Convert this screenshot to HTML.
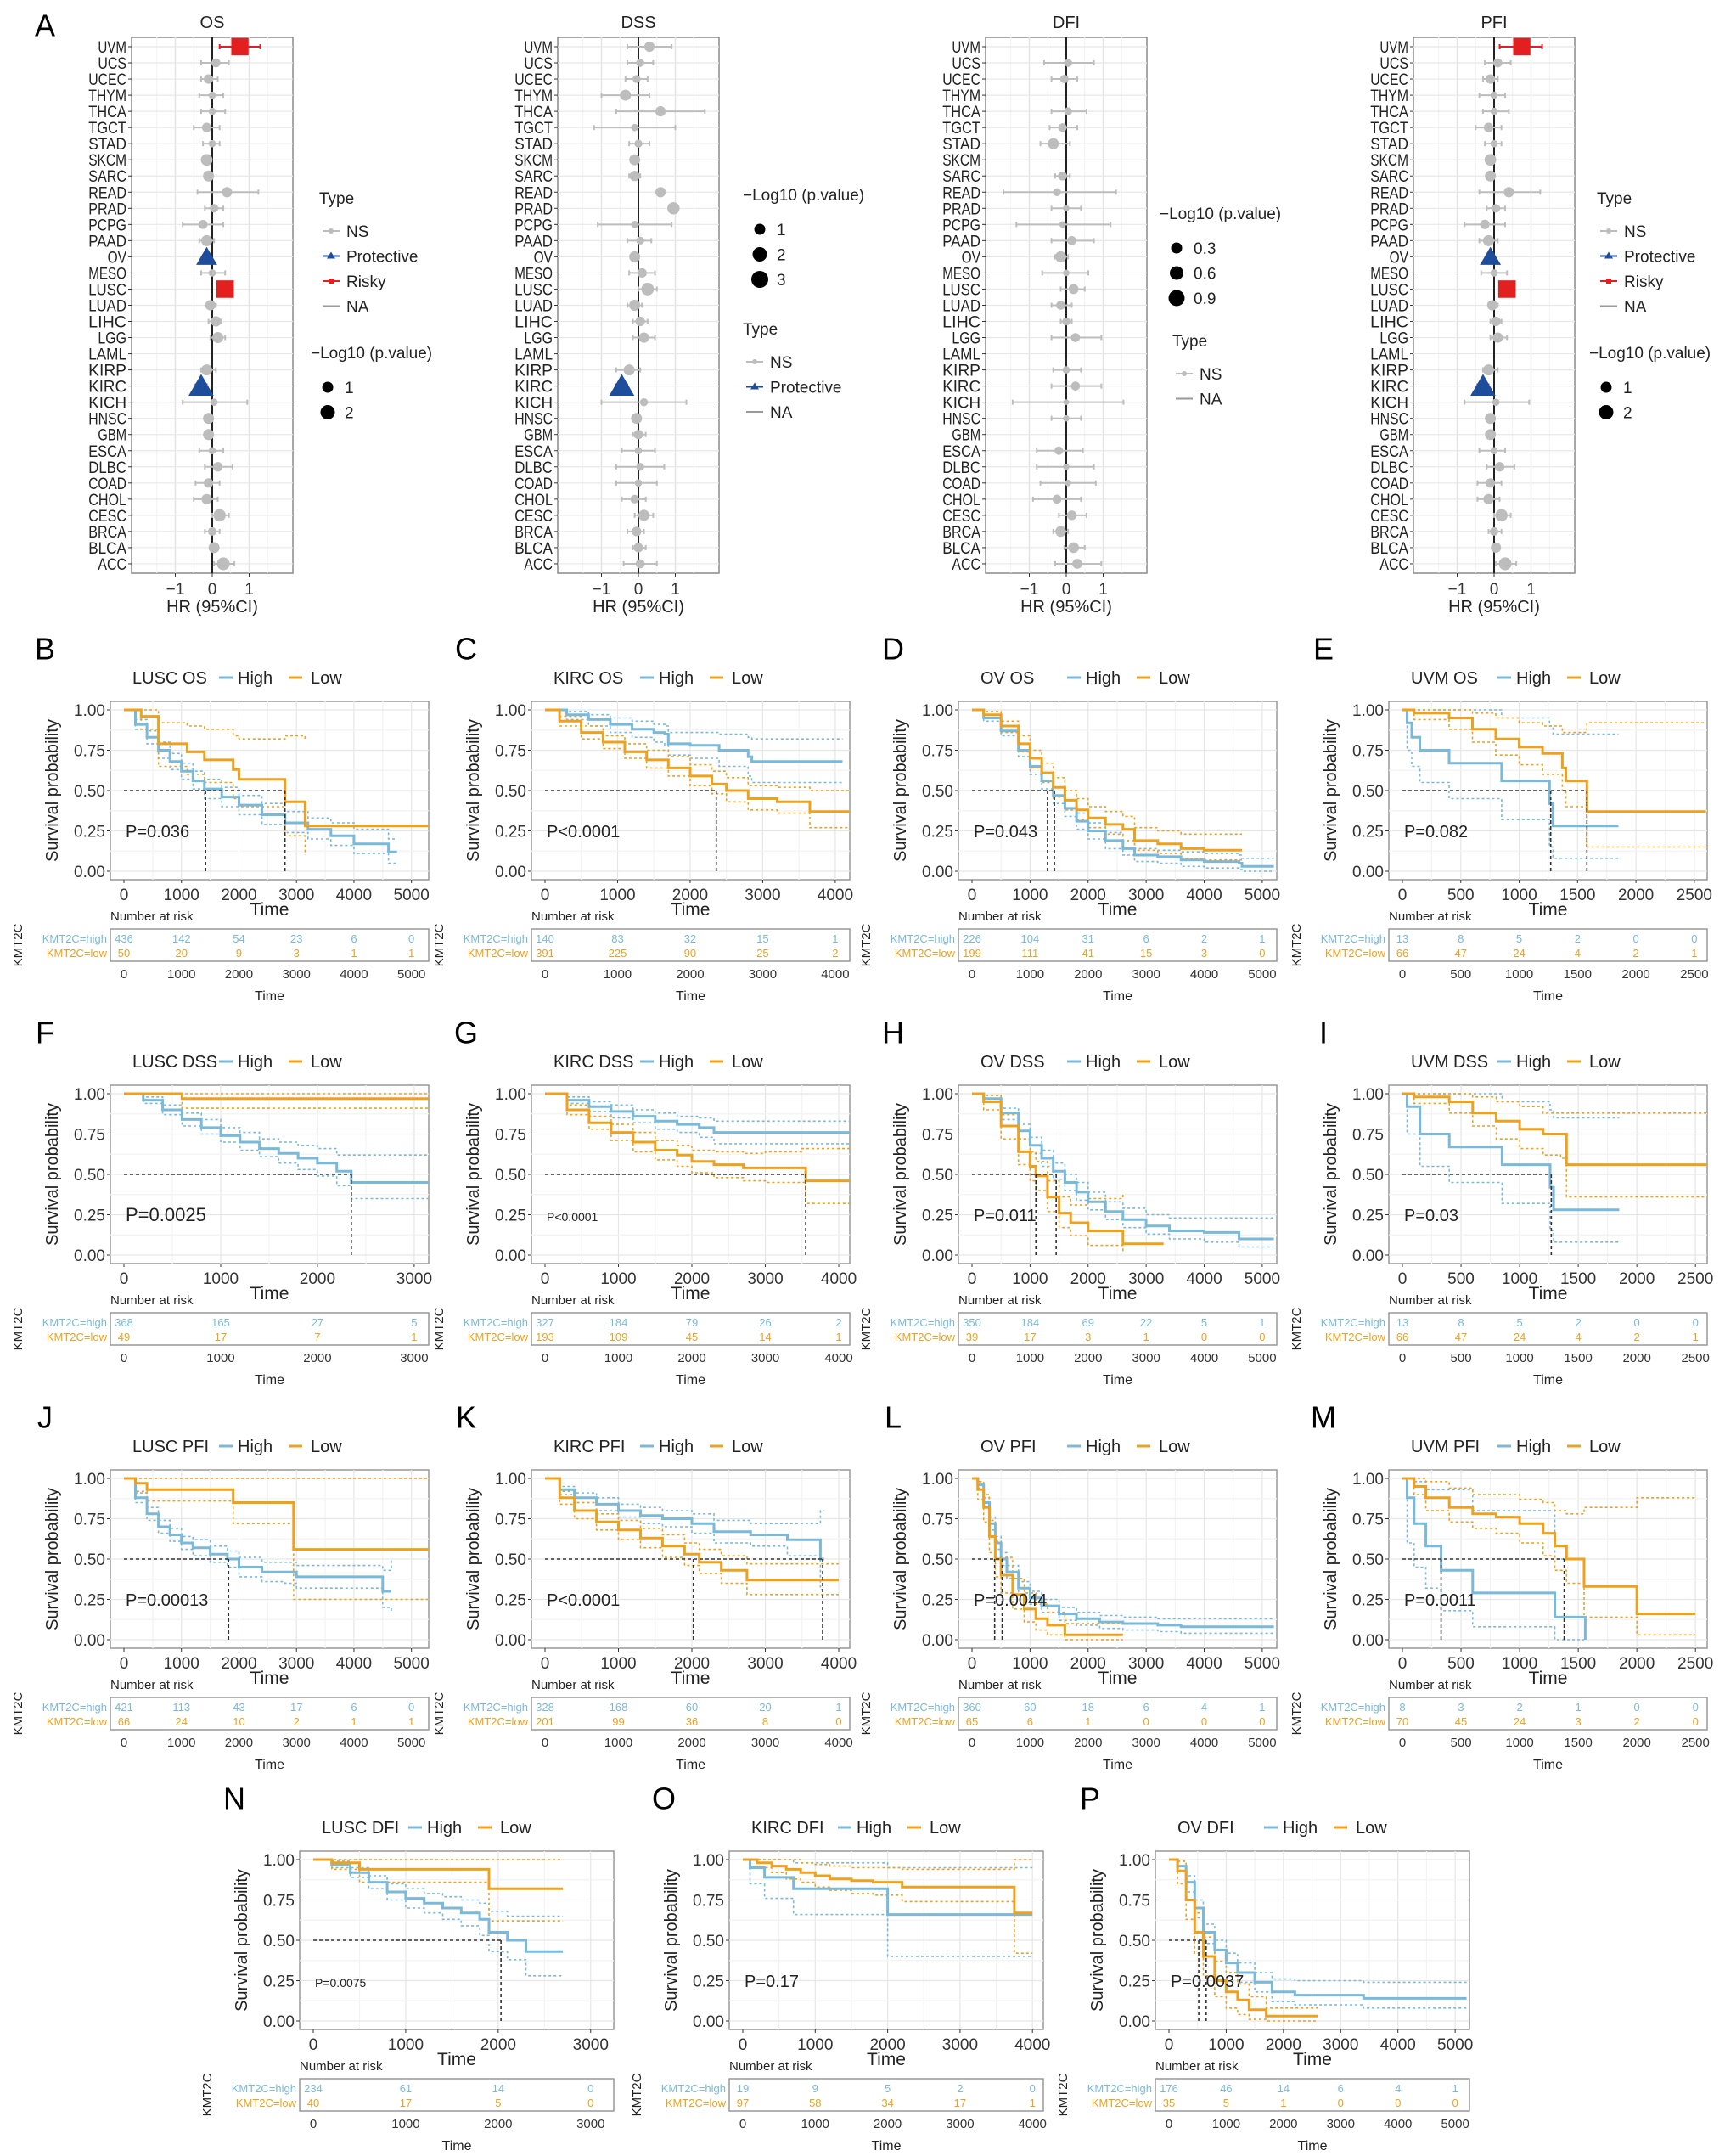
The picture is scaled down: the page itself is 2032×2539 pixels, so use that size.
<!DOCTYPE html>
<html><head><meta charset="utf-8"><title>KMT2C survival figure</title>
<style>
body{margin:0;background:#fff;}
svg text{font-family:"Liberation Sans",Arial,sans-serif;}
</style></head>
<body>
<svg id="fig" width="2032" height="2534" viewBox="0 0 2032 2534" xmlns="http://www.w3.org/2000/svg"></svg>
<script>
// ===== Forest plot data =====
const cancers=["UVM","UCS","UCEC","THYM","THCA","TGCT","STAD","SKCM","SARC","READ","PRAD","PCPG","PAAD","OV","MESO","LUSC","LUAD","LIHC","LGG","LAML","KIRP","KIRC","KICH","HNSC","GBM","ESCA","DLBC","COAD","CHOL","CESC","BRCA","BLCA","ACC"];
const osHR=[0.75,0.1,-0.1,0,0,-0.15,0,-0.15,-0.1,0.4,0.05,-0.25,-0.15,-0.15,0,0.35,-0.05,0.1,0.15,null,-0.15,-0.3,0.05,-0.1,-0.1,0,0.15,-0.1,-0.15,0.2,0,0.05,0.3];
const osLo=[0.2,-0.3,-0.3,-0.35,-0.3,-0.5,-0.25,-0.2,-0.2,-0.4,-0.2,-0.8,-0.35,-0.25,-0.3,0.2,-0.15,-0.1,-0.05,null,-0.3,-0.45,-0.8,-0.2,-0.2,-0.35,-0.2,-0.45,-0.5,0,-0.2,-0.05,0.05];
const osHi=[1.3,0.45,0.15,0.3,0.35,0.2,0.2,-0.05,0,1.25,0.3,0.3,0.05,-0.05,0.35,0.5,0.1,0.25,0.35,null,0.1,-0.15,0.95,0,0,0.3,0.55,0.2,0.15,0.45,0.2,0.15,0.6];
const osLP=[2.5,0.5,0.6,0.2,0.2,0.6,0.2,1.2,1.0,0.8,0.4,0.5,1.0,1.8,0.2,2.6,0.8,0.8,1.0,null,1.0,3.0,0.2,1.0,1.0,0.2,0.6,0.6,0.8,1.4,0.4,1.0,1.6];
const osType=["R","N","N","N","N","N","N","N","N","N","N","N","N","P","N","R","N","N","N",null,"N","P","N","N","N","N","N","N","N","N","N","N","N"];

const dssHR=[0.3,0.05,-0.05,-0.35,0.6,-0.1,0,-0.1,-0.1,0.6,0.95,-0.1,0.05,-0.1,0.1,0.25,-0.1,0.05,0.15,null,-0.25,-0.45,0.15,-0.05,0,0,0.05,0,-0.1,0.15,-0.05,0,0.05];
const dssLo=[-0.3,-0.3,-0.35,-1,-0.6,-1.2,-0.25,-0.2,-0.25,0.55,0.9,-1.1,-0.3,-0.15,-0.25,0,-0.3,-0.15,-0.15,null,-0.6,-0.6,-1,-0.15,-0.15,-0.45,-0.6,-0.6,-0.45,-0.1,-0.3,-0.15,-0.4];
const dssHi=[0.9,0.4,0.25,0.3,1.8,1,0.3,0,0.05,0.65,1.0,0.9,0.35,0,0.45,0.5,0.1,0.25,0.45,null,0.05,-0.3,1.3,0.05,0.2,0.45,0.7,0.5,0.2,0.4,0.15,0.2,0.5];
const dssLP=[0.8,0.3,0.3,1.0,0.8,0.2,0.3,1.0,0.8,0.8,1.4,0.2,0.3,1.0,0.6,1.5,1.0,0.6,0.8,null,1.0,3.0,0.3,1.0,0.6,0.2,0.3,0.2,0.4,1.0,0.6,0.6,0.5];
const dssType=["N","N","N","N","N","N","N","N","N","N","N","N","N","N","N","N","N","N","N",null,"N","P","N","N","N","N","N","N","N","N","N","N","N"];

const dfiHR=[null,0.05,-0.05,null,0.05,-0.1,-0.35,null,-0.1,-0.25,0,-0.1,0.15,-0.15,0,0.2,-0.15,0,0.25,null,0,0.25,0,0,null,-0.2,0,0.05,-0.25,0.15,-0.15,0.2,0.3];
const dfiLo=[null,-0.6,-0.4,null,-0.4,-0.45,-0.7,null,-0.3,-1.7,-0.4,-1.35,-0.4,-0.3,-0.65,-0.15,-0.4,-0.15,-0.4,null,-0.35,-0.4,-1.45,-0.4,null,-0.8,-0.8,-0.7,-0.9,-0.2,-0.35,-0.05,-0.3];
const dfiHi=[null,0.75,0.3,null,0.55,0.3,0.1,null,0.1,1.35,0.4,1.2,0.75,0.05,0.6,0.5,0.15,0.15,0.95,null,0.4,0.95,1.55,0.4,null,0.45,0.75,0.8,0.4,0.55,0.05,0.5,0.95];
const dfiLP=[null,0.3,0.4,null,0.3,0.4,1.0,null,0.5,0.3,0.1,0.1,0.5,1.0,0.1,0.7,0.5,0.3,0.5,null,0.2,0.5,0.05,0.1,null,0.4,0.1,0.1,0.5,0.6,0.9,0.9,0.7];
const dfiType=[null,"N","N",null,"N","N","N",null,"N","N","N","N","N","N","N","N","N","N","N",null,"N","N","N","N",null,"N","N","N","N","N","N","N","N"];

const pfiHR=[0.75,0.1,-0.1,0,0,-0.15,0,-0.1,-0.1,0.4,0.05,-0.25,-0.15,-0.1,0,0.35,-0.05,0.05,0.1,null,-0.15,-0.3,0.05,-0.1,-0.1,0,0.15,-0.1,-0.15,0.2,0,0.05,0.3];
const pfiLo=[0.15,-0.25,-0.3,-0.4,-0.3,-0.5,-0.25,-0.15,-0.2,-0.4,-0.2,-0.8,-0.4,-0.2,-0.35,0.2,-0.15,-0.1,-0.1,null,-0.3,-0.45,-0.8,-0.2,-0.2,-0.4,-0.2,-0.45,-0.45,0,-0.15,-0.05,0.05];
const pfiHi=[1.3,0.45,0.1,0.3,0.4,0.2,0.2,0,0,1.25,0.3,0.3,0.1,0,0.35,0.5,0.1,0.2,0.35,null,0.1,-0.15,0.95,0,0,0.3,0.55,0.2,0.15,0.45,0.2,0.15,0.6];
const pfiLP=[2.5,0.5,0.6,0.2,0.2,0.6,0.2,1.2,1.0,0.8,0.4,0.6,1.0,1.8,0.2,2.6,0.8,0.6,0.8,null,1.0,3.0,0.2,1.0,1.0,0.2,0.6,0.6,0.8,1.4,0.4,0.8,1.6];
const pfiType=osType;

// ===== KM data =====
const B_hT=[0,200,400,600,800,1000,1200,1400,1700,2000,2400,2800,3200,3600,4000,4600,4750];
const B_hS=[1,.91,.83,.75,.68,.62,.56,.51,.46,.41,.35,.3,.26,.22,.17,.12,.12];
const B_hU=[1,.94,.87,.8,.73,.67,.62,.57,.52,.47,.42,.37,.33,.3,.26,.2,.2];
const B_hL=[1,.88,.79,.7,.63,.57,.51,.45,.4,.35,.29,.24,.2,.16,.11,.05,.05];
const B_lT=[0,300,600,1100,1400,1900,2000,2800,3150,5300];
const B_lS=[1,.96,.79,.74,.69,.63,.57,.43,.28,.28];
const B_lU=[1,1,.92,.9,.88,.84,.82,.84,.81,null];
const B_lL=[1,.88,.65,.6,.55,.45,.4,.22,.1,null];
const B_med=[1420,2800];
const B_rH=[436,142,54,23,6,0];const B_rL=[50,20,9,3,1,1];

const C_hT=[0,300,600,900,1200,1500,1650,1700,2000,2400,2800,2850,4100];
const C_hS=[1,.97,.94,.91,.88,.86,.85,.79,.78,.75,.71,.68,.68];
const C_hU=[1,.99,.97,.95,.93,.91,.9,.86,.86,.85,.83,.82,.82];
const C_hL=[1,.94,.9,.86,.83,.8,.78,.72,.7,.65,.59,.55,.55];
const C_lT=[0,200,500,800,1100,1400,1700,2000,2300,2500,2800,3200,3600,3650,4200];
const C_lS=[1,.93,.86,.8,.74,.69,.64,.59,.54,.5,.45,.43,.43,.37,.37];
const C_lU=[1,.96,.9,.84,.79,.75,.71,.66,.62,.58,.53,.52,.52,.5,.5];
const C_lL=[1,.9,.82,.76,.7,.64,.59,.53,.48,.43,.38,.36,.36,.27,.27];
const C_med=[2360];
const C_rH=[140,83,32,15,1];const C_rL=[391,225,90,25,2];

const D_hT=[0,200,500,800,1000,1200,1400,1600,1800,2000,2300,2600,2800,3200,3600,4000,4600,4650,5200];
const D_hS=[1,.95,.87,.75,.65,.56,.47,.39,.31,.25,.19,.14,.1,.09,.07,.06,.05,.03,.03];
const D_hU=[1,.97,.9,.79,.7,.61,.52,.44,.36,.3,.24,.19,.14,.13,.12,.11,.1,.08,.08];
const D_hL=[1,.93,.84,.71,.6,.51,.42,.34,.26,.2,.14,.1,.06,.05,.03,.02,.01,0,0];
const D_lT=[0,200,500,800,1000,1200,1400,1600,1800,2000,2300,2600,2800,3200,3600,4000,4650];
const D_lS=[1,.97,.9,.79,.7,.61,.52,.44,.38,.33,.29,.26,.19,.17,.14,.13,.13];
const D_lU=[1,.99,.93,.84,.75,.67,.58,.5,.45,.4,.37,.34,.27,.25,.23,.23,.23];
const D_lL=[1,.95,.86,.74,.64,.55,.46,.38,.32,.27,.23,.19,.13,.11,.08,.07,.07];
const D_med=[1300,1420];
const D_rH=[226,104,31,6,2,1];const D_rL=[199,111,41,15,3,0];

const E_hT=[0,40,80,150,400,850,1260,1290,1850];
const E_hS=[1,.92,.83,.75,.67,.56,.42,.28,.28];
const E_hU=[1,1,1,1,1,.95,.9,.85,.85];
const E_hL=[1,.75,.65,.55,.45,.32,.15,.08,.08];
const E_lT=[0,100,400,600,800,1000,1200,1370,1400,1580,2600];
const E_lS=[1,.98,.95,.88,.82,.77,.73,.64,.56,.37,.37];
const E_lU=[1,1,1,.98,.95,.92,.9,.86,.86,.92,.92];
const E_lL=[1,.94,.88,.8,.72,.66,.6,.5,.4,.15,.15];
const E_med=[1270,1580];
const E_rH=[13,8,5,2,0,0];const E_rL=[66,47,24,4,2,1];

const F_hT=[0,200,400,600,800,1000,1200,1400,1600,1800,2000,2200,2350,3150];
const F_hS=[1,.96,.9,.84,.79,.74,.7,.66,.63,.6,.57,.52,.45,.45];
const F_hU=[1,.98,.93,.88,.84,.79,.76,.72,.7,.68,.66,.62,.62,.62];
const F_hL=[1,.94,.87,.8,.75,.7,.65,.61,.57,.53,.49,.43,.35,.35];
const F_lT=[0,600,3150];
const F_lS=[1,.97,.97];
const F_lU=[1,1,1];
const F_lL=[1,.91,.91];
const F_med=[2350];
const F_rH=[368,165,27,5];const F_rL=[49,17,7,1];

const G_hT=[0,300,600,900,1200,1500,1800,2100,2300,4150];
const G_hS=[1,.96,.92,.89,.86,.83,.81,.79,.76,.76];
const G_hU=[1,.98,.95,.93,.9,.88,.86,.85,.83,.83];
const G_hL=[1,.94,.89,.85,.82,.78,.76,.73,.69,.69];
const G_lT=[0,300,600,900,1200,1500,1800,2000,2300,2700,3000,3500,3550,4150];
const G_lS=[1,.9,.82,.76,.7,.65,.62,.58,.56,.54,.54,.54,.46,.46];
const G_lU=[1,.93,.86,.81,.76,.71,.68,.65,.64,.63,.64,.66,.66,.66];
const G_lL=[1,.87,.78,.71,.64,.59,.55,.51,.48,.46,.45,.45,.32,.32];
const G_med=[3550];
const G_rH=[327,184,79,26,2];const G_rL=[193,109,45,14,1];

const H_hT=[0,200,500,800,1000,1200,1400,1600,1800,2000,2300,2600,3000,3400,4000,4600,5200];
const H_hS=[1,.97,.88,.77,.68,.6,.52,.45,.39,.33,.27,.22,.18,.15,.14,.1,.1];
const H_hU=[1,.99,.91,.81,.73,.65,.57,.5,.45,.39,.33,.29,.25,.23,.23,.23,.23];
const H_hL=[1,.95,.84,.72,.63,.55,.47,.4,.34,.28,.22,.17,.13,.1,.08,.05,.05];
const H_lT=[0,200,500,800,1000,1100,1300,1500,1700,2000,2600,3300];
const H_lS=[1,.95,.8,.64,.55,.49,.36,.26,.2,.15,.07,.07];
const H_lU=[1,.99,.87,.72,.64,.58,.46,.36,.31,.35,.38,null];
const H_lL=[1,.9,.72,.56,.46,.4,.27,.17,.12,.06,.01,null];
const H_med=[1100,1450];
const H_rH=[350,184,69,22,5,1];const H_rL=[39,17,3,1,0,0];

const I_hT=[0,40,150,400,850,1260,1290,1850];
const I_hS=[1,.92,.75,.67,.56,.42,.28,.28];
const I_hU=[1,1,1,1,.95,.9,.85,.85];
const I_hL=[1,.75,.55,.45,.32,.15,.08,.08];
const I_lT=[0,100,400,600,800,1000,1200,1350,1400,2600];
const I_lS=[1,.98,.95,.88,.83,.78,.75,.75,.56,.56];
const I_lU=[1,1,1,.98,.95,.92,.88,.88,.88,.88];
const I_lL=[1,.94,.88,.8,.72,.66,.62,.6,.36,.36];
const I_med=[1270];
const I_rH=[13,8,5,2,0,0];const I_rL=[66,47,24,4,2,1];

const J_hT=[0,200,400,600,800,1000,1200,1500,1800,2000,2400,2800,3000,4400,4500,4650];
const J_hS=[1,.88,.78,.7,.65,.6,.57,.53,.5,.45,.42,.42,.39,.39,.3,.3];
const J_hU=[1,.91,.82,.74,.69,.64,.62,.58,.55,.51,.48,.48,.46,.46,.43,.5];
const J_hL=[1,.85,.74,.66,.61,.56,.52,.48,.45,.39,.36,.35,.32,.32,.2,.17];
const J_lT=[0,200,400,1900,2950,5300];
const J_lS=[1,.97,.93,.85,.56,.56];
const J_lU=[1,1,1,1,1,1];
const J_lL=[1,.92,.86,.72,.25,.25];
const J_med=[1820];
const J_rH=[421,113,43,17,6,0];const J_rL=[66,24,10,2,1,1];

const K_hT=[0,200,400,700,1000,1300,1600,2000,2300,2800,3300,3750,3800];
const K_hS=[1,.93,.88,.84,.8,.77,.75,.72,.67,.65,.62,.5,.5];
const K_hU=[1,.95,.91,.88,.84,.82,.8,.78,.74,.72,.72,.8,.8];
const K_hL=[1,.9,.85,.8,.76,.72,.7,.66,.6,.58,.52,.31,.31];
const K_lT=[0,200,400,700,1000,1300,1600,1900,2100,2400,2750,4000];
const K_lS=[1,.88,.8,.73,.68,.63,.58,.53,.48,.43,.37,.37];
const K_lU=[1,.92,.85,.78,.74,.69,.65,.6,.56,.52,.47,.47];
const K_lL=[1,.84,.75,.68,.62,.57,.51,.46,.41,.35,.28,.28];
const K_med=[2020,3780];
const K_rH=[328,168,60,20,1];const K_rL=[201,99,36,8,0];

const L_hT=[0,100,200,300,400,500,600,800,1000,1200,1500,1800,2200,2600,3200,3600,5200];
const L_hS=[1,.96,.85,.72,.6,.5,.42,.32,.26,.21,.16,.13,.11,.1,.09,.08,.08];
const L_hU=[1,.98,.88,.76,.64,.54,.46,.36,.3,.25,.2,.17,.15,.14,.13,.13,.13];
const L_hL=[1,.94,.82,.68,.56,.46,.38,.28,.22,.17,.12,.09,.07,.06,.05,.04,.04];
const L_lT=[0,100,200,300,400,500,700,900,1100,1300,1600,2600];
const L_lS=[1,.93,.82,.64,.5,.4,.28,.19,.13,.09,.03,.03];
const L_lU=[1,.98,.9,.74,.61,.51,.38,.29,.22,.17,.1,.1];
const L_lL=[1,.87,.73,.54,.39,.29,.19,.11,.06,.03,0,0];
const L_med=[390,520];
const L_rH=[360,60,18,6,4,1];const L_rL=[65,6,1,0,0,0];

const M_hT=[0,40,100,200,330,600,1300,1550,1560];
const M_hS=[1,.88,.72,.58,.43,.29,.14,.14,0];
const M_hU=[1,1,.98,.93,.93,.8,.5,.5,null];
const M_hL=[1,.6,.45,.32,.18,.08,0,0,null];
const M_lT=[0,100,200,400,600,800,1000,1200,1300,1400,1550,2000,2500];
const M_lS=[1,.95,.88,.82,.78,.76,.72,.66,.58,.5,.33,.16,.16];
const M_lU=[1,1,.98,.94,.9,.9,.87,.85,.8,.78,.82,.88,.88];
const M_lL=[1,.9,.8,.73,.69,.66,.6,.52,.43,.35,.14,.03,.03];
const M_med=[330,1380];
const M_rH=[8,3,2,1,0,0];const M_rL=[70,45,24,3,2,0];

const N_hT=[0,200,400,600,800,1000,1200,1400,1600,1800,1900,2100,2300,2700];
const N_hS=[1,.97,.92,.86,.8,.76,.73,.7,.67,.63,.55,.5,.43,.43];
const N_hU=[1,.99,.95,.9,.85,.82,.79,.77,.75,.73,.68,.65,.65,.65];
const N_hL=[1,.95,.89,.82,.75,.7,.67,.63,.59,.53,.43,.38,.28,.28];
const N_lT=[0,200,500,1900,2700];
const N_lS=[1,.98,.94,.82,.82];
const N_lU=[1,1,1,1,1];
const N_lL=[1,.94,.86,.62,.62];
const N_med=[2030];
const N_rH=[234,61,14,0];const N_rL=[40,17,5,0];

const O_hT=[0,100,300,700,2000,4000];
const O_hS=[1,.95,.89,.82,.66,.66];
const O_hU=[1,1,1,.98,.95,.95];
const O_hL=[1,.85,.76,.66,.4,.4];
const O_lT=[0,200,400,600,800,1000,1200,1500,1800,2200,3000,3750,4000];
const O_lS=[1,.98,.96,.94,.92,.9,.88,.87,.86,.83,.83,.67,.67];
const O_lU=[1,1,1,1,.98,.97,.96,.95,.95,.94,.94,1,1];
const O_lL=[1,.95,.92,.88,.86,.83,.81,.79,.78,.74,.74,.42,.42];
const O_med=[];
const O_rH=[19,9,5,2,0];const O_rL=[97,58,34,17,1];

const P_hT=[0,150,300,450,600,800,1000,1200,1500,1800,2200,2600,3400,5200];
const P_hS=[1,.96,.86,.7,.55,.44,.36,.3,.24,.18,.16,.16,.14,.14];
const P_hU=[1,.99,.9,.75,.6,.5,.42,.36,.3,.26,.25,.25,.24,.24];
const P_hL=[1,.93,.8,.64,.48,.37,.3,.24,.18,.12,.1,.1,.08,.08];
const P_lT=[0,150,300,450,600,800,1000,1200,1400,1700,2600];
const P_lS=[1,.93,.75,.55,.4,.25,.18,.13,.07,.03,.03];
const P_lU=[1,.99,.86,.67,.52,.37,.3,.23,.15,.08,.08];
const P_lL=[1,.85,.63,.42,.28,.15,.08,.04,.01,0,0];
const P_med=[520,650];
const P_rH=[176,46,14,6,4,1];const P_rL=[35,5,1,0,0,0];

const ticks5000=[0,1000,2000,3000,4000,5000];
const ticks4000=[0,1000,2000,3000,4000];
const ticks3000=[0,1000,2000,3000];
const ticks2500=[0,500,1000,1500,2000,2500];

// ===== drawing =====
const NS="http://www.w3.org/2000/svg";
const svg=document.getElementById('fig');
function mk(tag,attrs,parent,text){const e=document.createElementNS(NS,tag);for(const k in attrs)e.setAttribute(k,attrs[k]);if(text!==undefined)e.textContent=text;(parent||svg).appendChild(e);return e;}
const HIGH="#79BADB",LOW="#F0A11C";

function letter(ch,x,y){
  const t=mk('text',{x:x,y:y,'font-size':36,'text-anchor':'middle','dominant-baseline':'central',fill:'#000'},svg,ch);
  
  
}

function forest(name,title,x0,hr,lo,hi,lp,type){
  const g=mk('g',{});
  
  
  const zx=x0+95, u=43.5, top=44, bot=675, rowY=i=>55+i*19.03;
  const X=v=>zx+v*u;
  mk('rect',{x:x0,y:top,width:190,height:bot-top,fill:'#fff',stroke:'#8a8a8a','stroke-width':1.5},g);
  [-1.5,-0.5,0.5,1.5].forEach(v=>mk('line',{x1:X(v),x2:X(v),y1:top,y2:bot,stroke:'#f2f2f2','stroke-width':1},g));
  [-1,1].forEach(v=>mk('line',{x1:X(v),x2:X(v),y1:top,y2:bot,stroke:'#e4e4e4','stroke-width':1.5},g));
  cancers.forEach((c,i)=>mk('line',{x1:x0,x2:x0+190,y1:rowY(i),y2:rowY(i),stroke:'#e8e8e8','stroke-width':1.2},g));
  mk('line',{x1:zx,x2:zx,y1:top,y2:bot,stroke:'#222','stroke-width':2},g);
  const tt=mk('text',{x:zx,y:33,'font-size':20,'text-anchor':'middle',fill:'#222'},g,title);
  
  
  cancers.forEach((c,i)=>{
    const y=rowY(i);
    const lb=mk('text',{x:x0-6,y:y+7,'font-size':19,'text-anchor':'end',fill:'#222',textLength:c.length*11.2,lengthAdjust:'spacingAndGlyphs'},g,c);
    
    
    mk('line',{x1:x0-4,x2:x0,y1:y,y2:y,stroke:'#333','stroke-width':1},g);
    if(hr[i]===null||type[i]===null)return;
    const col=type[i]==='R'?'#E3201F':type[i]==='P'?'#1E4E9B':'#BDBDBD';
    const bar=mk('g',{},g);
    
    
    mk('line',{x1:X(lo[i]),x2:X(hi[i]),y1:y,y2:y,stroke:col,'stroke-width':2},bar);
    mk('line',{x1:X(lo[i]),x2:X(lo[i]),y1:y-3,y2:y+3,stroke:col,'stroke-width':2},bar);
    mk('line',{x1:X(hi[i]),x2:X(hi[i]),y1:y-3,y2:y+3,stroke:col,'stroke-width':2},bar);
    const r=2.5+4*Math.sqrt(lp[i]);
    let m;
    if(type[i]==='R'){m=mk('rect',{x:X(hr[i])-r*1.15,y:y-r*1.15,width:r*2.3,height:r*2.3,fill:col},g);}
    else if(type[i]==='P'){const s=r*1.5;m=mk('polygon',{points:`${X(hr[i])},${y-s} ${X(hr[i])-s*1.05},${y+s*0.8} ${X(hr[i])+s*1.05},${y+s*0.8}`,fill:col},g);}
    else{m=mk('circle',{cx:X(hr[i]),cy:y,r:r,fill:col},g);}
    
    
  });
  [-1,0,1].forEach(v=>{
    mk('line',{x1:X(v),x2:X(v),y1:bot,y2:bot+4,stroke:'#333'},g);
    mk('text',{x:X(v),y:bot+25,'font-size':19,'text-anchor':'middle',fill:'#333'},g,v===-1?'\u22121':String(v));
  });
  const xl=mk('text',{x:zx,y:721,'font-size':20,'text-anchor':'middle',fill:'#222'},g,'HR (95%CI)');
  
  
}
function legType(x,y,items){
  const g=mk('g',{});
  
  
  mk('text',{x:x,y:y,'font-size':19,fill:'#222'},g,'Type');
  items.forEach((it,i)=>{
    const yy=y+32+i*29.5;
    const e=mk('g',{},g);
    
    
    const col=it==='Risky'?'#E3201F':it==='Protective'?'#1E4E9B':'#BDBDBD';
    mk('line',{x1:x+4,x2:x+24,y1:yy,y2:yy,stroke:it==='NA'?'#999':col,'stroke-width':2},e);
    if(it==='NS')mk('circle',{cx:x+14,cy:yy,r:3,fill:col},e);
    if(it==='Protective')mk('polygon',{points:`${x+14},${yy-5} ${x+9},${yy+3} ${x+19},${yy+3}`,fill:col},e);
    if(it==='Risky')mk('rect',{x:x+11,y:yy-3,width:6,height:6,fill:col},e);
    mk('text',{x:x+32,y:yy+7,'font-size':19,fill:'#222'},e,it);
  });
}
function legSize(x,y,labels,rs){
  const g=mk('g',{});
  
  
  mk('text',{x:x,y:y,'font-size':19,fill:'#222'},g,'\u2212Log10 (p.value)');
  labels.forEach((l,i)=>{
    const yy=y+34+i*29.5;
    mk('circle',{cx:x+20,cy:yy,r:rs[i],fill:'#000'},g);
    mk('text',{x:x+40,y:yy+7,'font-size':19,fill:'#222'},g,l);
  });
}

letter('A',53,30);
forest('os','OS',155,osHR,osLo,osHi,osLP,osType);
forest('dss','DSS',657,dssHR,dssLo,dssHi,dssLP,dssType);
forest('dfi','DFI',1161,dfiHR,dfiLo,dfiHi,dfiLP,dfiType);
forest('pfi','PFI',1665,pfiHR,pfiLo,pfiHi,pfiLP,pfiType);
legType(376,240,['NS','Protective','Risky','NA']);
legSize(366,422,['1','2'],[6.5,8.5]);
legSize(875,236,['1','2','3'],[6.5,8.5,10]);
legType(875,394,['NS','Protective','NA']);
legSize(1366,258,['0.3','0.6','0.9'],[6.5,8,9.5]);
legType(1381,408,['NS','NA']);
legType(1881,240,['NS','Protective','Risky','NA']);
legSize(1872,422,['1','2'],[6.5,8.5]);

function km(o){
  const g=mk('g',{});
  
  
  const L=o.x,T=o.y,W=o.w,H=210;
  const X=t=>L+16+t/o.xr*(W-16);
  const Y=s=>T+10+(1-s)*190;
  letter(o.id,L-77,T-62);
  const tl=mk('text',{x:L+26,y:T-21,'font-size':20,fill:'#222'},g,o.title);
  
  
  const lg=mk('g',{},g);
  
  
  mk('line',{x1:L+128,x2:L+144,y1:T-28,y2:T-28,stroke:HIGH,'stroke-width':3},lg);
  mk('text',{x:L+150,y:T-21,'font-size':20,fill:'#222'},lg,'High');
  mk('line',{x1:L+210,x2:L+226,y1:T-28,y2:T-28,stroke:LOW,'stroke-width':3},lg);
  mk('text',{x:L+236,y:T-21,'font-size':20,fill:'#222'},lg,'Low');
  mk('rect',{x:L,y:T,width:W,height:H,fill:'#fff',stroke:'#999','stroke-width':1.5},g);
  const gx=o.ticks[1]-o.ticks[0];
  for(let t=gx/2;t<o.xr;t+=gx/2)mk('line',{x1:X(t),x2:X(t),y1:T,y2:T+H,stroke:(t/gx)%1===0?'#e6e6e6':'#f3f3f3','stroke-width':1.2},g);
  [0,.125,.25,.375,.5,.625,.75,.875,1].forEach(s=>mk('line',{x1:L,x2:L+W,y1:Y(s),y2:Y(s),stroke:(s*4)%1===0?'#e6e6e6':'#f3f3f3','stroke-width':1.2},g));
  function step(Ts,Ss,col,dash,w,nm){
    let d='';let started=false;
    for(let i=0;i<Ts.length;i++){
      if(Ss[i]===null)break;
      if(!started){d+=`M${X(Ts[i]).toFixed(1)},${Y(Ss[i]).toFixed(1)}`;started=true;}
      else d+=`H${X(Ts[i]).toFixed(1)}V${Y(Ss[i]).toFixed(1)}`;
    }
    const p=mk('path',{d:d,fill:'none',stroke:col,'stroke-width':w},g);
    if(dash)p.setAttribute('stroke-dasharray',dash);
    
    
  }
  step(o.hT,o.hU,HIGH,'3 3',1.6,'ci-upper-high');
  step(o.hT,o.hL,HIGH,'3 3',1.6,'ci-lower-high');
  step(o.lT,o.lU,LOW,'3 3',1.6,'ci-upper-low');
  step(o.lT,o.lL,LOW,'3 3',1.6,'ci-lower-low');
  step(o.hT,o.hS,HIGH,null,3,'curve-high');
  step(o.lT,o.lS,LOW,null,3,'curve-low');
  if(o.med.length){
    const mx=Math.max(...o.med);
    mk('line',{x1:X(0),x2:X(mx),y1:Y(.5),y2:Y(.5),stroke:'#333','stroke-width':1.6,'stroke-dasharray':'4 3'},g);
    o.med.forEach(m=>mk('line',{x1:X(m),x2:X(m),y1:Y(.5),y2:Y(0),stroke:'#333','stroke-width':1.6,'stroke-dasharray':'4 3'},g));
  }
  const pt=mk('text',{x:L+18,y:T+160,'font-size':o.ps||20,fill:'#222'},g,o.p);
  
  
  [0,.25,.5,.75,1].forEach(s=>{
    mk('line',{x1:L-4,x2:L,y1:Y(s),y2:Y(s),stroke:'#333'},g);
    mk('text',{x:L-6,y:Y(s)+7,'font-size':19,'text-anchor':'end',fill:'#333'},g,s.toFixed(2));
  });
  o.ticks.forEach(t=>{
    mk('line',{x1:X(t),x2:X(t),y1:T+H,y2:T+H+4,stroke:'#333'},g);
    mk('text',{x:X(t),y:T+H+24,'font-size':19,'text-anchor':'middle',fill:'#333'},g,String(t));
  });
  const yl=mk('text',{x:0,y:0,'font-size':20,'text-anchor':'middle',fill:'#222',transform:`translate(${L-62},${T+105}) rotate(-90)`},g,'Survival probability');
  
  
  const xl=mk('text',{x:L+W/2,y:T+H+42,'font-size':21,'text-anchor':'middle',fill:'#222'},g,'Time');
  
  
  const rt=mk('g',{},g);
  
  
  mk('text',{x:L,y:T+258,'font-size':15,fill:'#222'},rt,'Number at risk');
  mk('rect',{x:L,y:T+268,width:W,height:38,fill:'#fff',stroke:'#999','stroke-width':1.5},rt);
  mk('text',{x:L-4,y:T+284,'font-size':13,'text-anchor':'end',fill:HIGH},rt,'KMT2C=high');
  mk('text',{x:L-4,y:T+301,'font-size':13,'text-anchor':'end',fill:LOW},rt,'KMT2C=low');
  mk('text',{x:0,y:0,'font-size':15,'text-anchor':'middle',fill:'#222',transform:`translate(${L-104},${T+287}) rotate(-90)`},rt,'KMT2C');
  o.ticks.forEach((t,i)=>{
    mk('text',{x:X(t),y:T+284,'font-size':13,'text-anchor':'middle',fill:HIGH},rt,String(o.rH[i]));
    mk('text',{x:X(t),y:T+301,'font-size':13,'text-anchor':'middle',fill:LOW},rt,String(o.rL[i]));
    mk('text',{x:X(t),y:T+326,'font-size':15,'text-anchor':'middle',fill:'#333'},rt,String(t));
  });
  mk('text',{x:L+W/2,y:T+352,'font-size':16,'text-anchor':'middle',fill:'#222'},rt,'Time');
}

const cols=[130,626,1129,1636], rows=[826,1278,1731];
const W0=375;
km({id:'B',x:cols[0],y:rows[0],w:W0,xr:5300,ticks:ticks5000,title:'LUSC OS',p:'P=0.036',hT:B_hT,hS:B_hS,hU:B_hU,hL:B_hL,lT:B_lT,lS:B_lS,lU:B_lU,lL:B_lL,med:B_med,rH:B_rH,rL:B_rL});
km({id:'C',x:cols[1],y:rows[0],w:W0,xr:4200,ticks:ticks4000,title:'KIRC OS',p:'P<0.0001',hT:C_hT,hS:C_hS,hU:C_hU,hL:C_hL,lT:C_lT,lS:C_lS,lU:C_lU,lL:C_lL,med:C_med,rH:C_rH,rL:C_rL});
km({id:'D',x:cols[2],y:rows[0],w:W0,xr:5250,ticks:ticks5000,title:'OV OS',p:'P=0.043',hT:D_hT,hS:D_hS,hU:D_hU,hL:D_hL,lT:D_lT,lS:D_lS,lU:D_lU,lL:D_lL,med:D_med,rH:D_rH,rL:D_rL});
km({id:'E',x:cols[3],y:rows[0],w:W0,xr:2610,ticks:ticks2500,title:'UVM OS',p:'P=0.082',hT:E_hT,hS:E_hS,hU:E_hU,hL:E_hL,lT:E_lT,lS:E_lS,lU:E_lU,lL:E_lL,med:E_med,rH:E_rH,rL:E_rL});
km({id:'F',x:cols[0],y:rows[1],w:W0,xr:3150,ticks:ticks3000,title:'LUSC DSS',p:'P=0.0025',ps:22,hT:F_hT,hS:F_hS,hU:F_hU,hL:F_hL,lT:F_lT,lS:F_lS,lU:F_lU,lL:F_lL,med:F_med,rH:F_rH,rL:F_rL});
km({id:'G',x:cols[1],y:rows[1],w:W0,xr:4150,ticks:ticks4000,title:'KIRC DSS',p:'P<0.0001',ps:14,hT:G_hT,hS:G_hS,hU:G_hU,hL:G_hL,lT:G_lT,lS:G_lS,lU:G_lU,lL:G_lL,med:G_med,rH:G_rH,rL:G_rL});
km({id:'H',x:cols[2],y:rows[1],w:W0,xr:5250,ticks:ticks5000,title:'OV DSS',p:'P=0.011',hT:H_hT,hS:H_hS,hU:H_hU,hL:H_hL,lT:H_lT,lS:H_lS,lU:H_lU,lL:H_lL,med:H_med,rH:H_rH,rL:H_rL});
km({id:'I',x:cols[3],y:rows[1],w:W0,xr:2600,ticks:ticks2500,title:'UVM DSS',p:'P=0.03',hT:I_hT,hS:I_hS,hU:I_hU,hL:I_hL,lT:I_lT,lS:I_lS,lU:I_lU,lL:I_lL,med:I_med,rH:I_rH,rL:I_rL});
km({id:'J',x:cols[0],y:rows[2],w:W0,xr:5300,ticks:ticks5000,title:'LUSC PFI',p:'P=0.00013',hT:J_hT,hS:J_hS,hU:J_hU,hL:J_hL,lT:J_lT,lS:J_lS,lU:J_lU,lL:J_lL,med:J_med,rH:J_rH,rL:J_rL});
km({id:'K',x:cols[1],y:rows[2],w:W0,xr:4150,ticks:ticks4000,title:'KIRC PFI',p:'P<0.0001',hT:K_hT,hS:K_hS,hU:K_hU,hL:K_hL,lT:K_lT,lS:K_lS,lU:K_lU,lL:K_lL,med:K_med,rH:K_rH,rL:K_rL});
km({id:'L',x:cols[2],y:rows[2],w:W0,xr:5250,ticks:ticks5000,title:'OV PFI',p:'P=0.0044',hT:L_hT,hS:L_hS,hU:L_hU,hL:L_hL,lT:L_lT,lS:L_lS,lU:L_lU,lL:L_lL,med:L_med,rH:L_rH,rL:L_rL});
km({id:'M',x:cols[3],y:rows[2],w:W0,xr:2600,ticks:ticks2500,title:'UVM PFI',p:'P=0.0011',hT:M_hT,hS:M_hS,hU:M_hU,hL:M_hL,lT:M_lT,lS:M_lS,lU:M_lU,lL:M_lL,med:M_med,rH:M_rH,rL:M_rL});
const r4=2180, W4=370;
km({id:'N',x:353,y:r4,w:W4,xr:3250,ticks:ticks3000,title:'LUSC DFI',p:'P=0.0075',ps:14,hT:N_hT,hS:N_hS,hU:N_hU,hL:N_hL,lT:N_lT,lS:N_lS,lU:N_lU,lL:N_lL,med:N_med,rH:N_rH,rL:N_rL});
km({id:'O',x:859,y:r4,w:W4,xr:4150,ticks:ticks4000,title:'KIRC DFI',p:'P=0.17',hT:O_hT,hS:O_hS,hU:O_hU,hL:O_hL,lT:O_lT,lS:O_lS,lU:O_lU,lL:O_lL,med:O_med,rH:O_rH,rL:O_rL});
km({id:'P',x:1361,y:r4,w:W4,xr:5250,ticks:ticks5000,title:'OV DFI',p:'P=0.0037',hT:P_hT,hS:P_hS,hU:P_hU,hL:P_hL,lT:P_lT,lS:P_lS,lU:P_lU,lL:P_lL,med:P_med,rH:P_rH,rL:P_rL});
</script>
</body></html>
